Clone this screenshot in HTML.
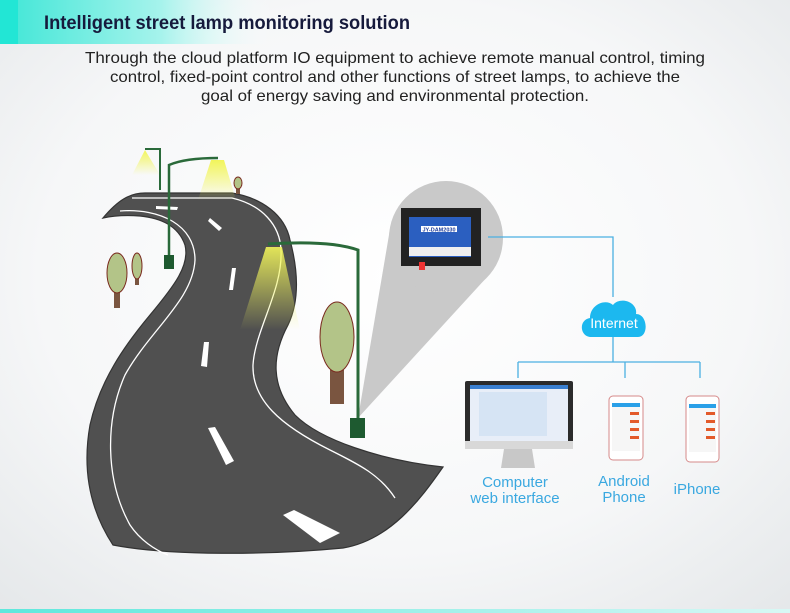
<!DOCTYPE html>
<html><head><meta charset="utf-8"><style>
html,body{margin:0;padding:0;width:790px;height:613px;overflow:hidden}
svg{display:block}
text{font-family:"Liberation Sans",sans-serif}
</style></head><body>
<svg width="790" height="613" viewBox="0 0 790 613" xmlns="http://www.w3.org/2000/svg">
<defs>
<radialGradient id="bg" cx="0.5" cy="0.45" r="0.75">
<stop offset="0" stop-color="#ffffff"/><stop offset="0.6" stop-color="#f6f7f8"/><stop offset="1" stop-color="#e4e7e9"/>
</radialGradient>
<linearGradient id="hd" x1="0" x2="1" y1="0" y2="0">
<stop offset="0" stop-color="#3ee6d6"/><stop offset="0.35" stop-color="#a6f3ec"/><stop offset="0.6" stop-color="#ffffff" stop-opacity="0"/>
</linearGradient>
<linearGradient id="cone" x1="0" x2="0" y1="0" y2="1">
<stop offset="0" stop-color="#f2f55a"/><stop offset="1" stop-color="#f2f55a" stop-opacity="0"/>
</linearGradient>
<linearGradient id="ft" x1="0" x2="1"><stop offset="0" stop-color="#5fe8dc"/><stop offset="1" stop-color="#d8f8f5"/></linearGradient>
</defs>
<rect width="790" height="613" fill="url(#bg)"/>
<rect x="0" y="0" width="460" height="44" fill="url(#hd)"/>
<rect x="0" y="0" width="18" height="44" fill="#22e6d5"/>
<rect x="0" y="609" width="790" height="4" fill="url(#ft)"/>
<text x="44" y="29" font-size="19" font-weight="bold" fill="#161a3c" textLength="366" lengthAdjust="spacingAndGlyphs">Intelligent street lamp monitoring solution</text>
<g font-size="16" fill="#222" text-anchor="middle">
<text x="395" y="63" textLength="620" lengthAdjust="spacingAndGlyphs">Through the cloud platform IO equipment to achieve remote manual control, timing</text>
<text x="395" y="82" textLength="570" lengthAdjust="spacingAndGlyphs">control, fixed-point control and other functions of street lamps, to achieve the</text>
<text x="395" y="101" textLength="388" lengthAdjust="spacingAndGlyphs">goal of energy saving and environmental protection.</text>
</g>
<!-- spotlight bubble -->
<path d="M358,418 L390,229 L446,238 L488,276 Z" fill="#c9c9c9"/>
<circle cx="446" cy="238" r="57" fill="#c9c9c9"/>
<!-- road -->
<path d="M103,218 C118,200 130,193 145,193 L232,193 C262,198 285,215 290,240 C298,270 300,300 288,325 C272,355 270,385 295,415 C320,440 380,460 443,467 C420,500 390,540 343,548 C270,555 170,556 113,545 C90,510 82,470 90,425 C100,380 125,345 150,315 C175,285 190,265 185,245 C178,225 160,218 140,216 C125,215 112,216 103,218 Z" fill="#505050" stroke="#333" stroke-width="1.2"/>
<path d="M120,211 C160,208 195,225 195,260 C193,300 150,330 125,375 C105,420 105,480 130,525 C140,540 155,550 168,555" fill="none" stroke="#fff" stroke-width="1.3"/>
<path d="M132,198 L232,198 C262,205 280,225 281,250 C283,290 255,330 253,365 C252,400 280,425 330,450 C360,465 380,475 395,498" fill="none" stroke="#fff" stroke-width="1.3"/>
<g fill="#fff">
<path d="M156,206 L178,207 L177,210 L156,209Z"/>
<path d="M210,218 L222,228 L219,231 L208,221Z"/>
<path d="M236,268 L233,290 L229,290 L232,268Z"/>
<path d="M209,342 L207,367 L201,366 L204,342Z"/>
<path d="M208,428 L215,427 L234,461 L226,465 Z"/>
<path d="M283,515 L294,510 L340,533 L320,543 Z"/>
</g>
<!-- lamps -->
<path d="M145,150 L132,175 L160,175 Z" fill="url(#cone)"/>
<path d="M145,149 L160,149 L160,190" fill="none" stroke="#2a6a3a" stroke-width="2"/>
<path d="M211,160 L198,200 L236,200 L224,160 Z" fill="url(#cone)"/>
<path d="M169,268 L169,165 Q185,158 218,158" fill="none" stroke="#2a6a3a" stroke-width="2.5"/>
<rect x="164" y="255" width="10" height="14" fill="#1e5a30"/>
<path d="M266,247 L240,330 L300,330 L282,247 Z" fill="url(#cone)" opacity="0.9"/>
<path d="M358,437 L358,250 Q330,240 268,244" fill="none" stroke="#2a6a3a" stroke-width="3"/>
<rect x="350" y="418" width="15" height="20" fill="#1e5a30"/>
<!-- trees -->
<rect x="114" y="288" width="6" height="20" fill="#7a5540"/><ellipse cx="117" cy="273" rx="10" ry="20" fill="#b3c488" stroke="#7a2a1f"/>
<rect x="135" y="272" width="4" height="13" fill="#7a5540"/><ellipse cx="137" cy="266" rx="5" ry="13" fill="#b3c488" stroke="#7a2a1f"/>
<rect x="330" y="370" width="14" height="34" fill="#7a5540"/><ellipse cx="337" cy="337" rx="17" ry="35" fill="#b3c488" stroke="#7a2a1f"/>
<rect x="236" y="186" width="4" height="8" fill="#7a5540"/><ellipse cx="238" cy="183" rx="4" ry="6" fill="#b3c488" stroke="#7a2a1f"/>
<!-- device -->
<rect x="401" y="208" width="80" height="58" fill="#222"/>
<rect x="409" y="217" width="62" height="40" fill="#2b5fc0"/>
<rect x="409" y="247" width="62" height="9" fill="#f0f0f0"/>
<rect x="421" y="226" width="36" height="6" fill="#fff"/>
<text x="439" y="231.5" font-size="5.5" fill="#1d3c9a" text-anchor="middle" font-weight="bold">JY-DAM2030</text>
<rect x="419" y="262" width="6" height="8" fill="#e33"/>
<!-- connectors -->
<g stroke="#4bb0e2" stroke-width="1.3" fill="none">
<path d="M488,237 L613,237 L613,297"/>
<path d="M613,335 L613,362 M518,362 L700,362 M518,362 L518,378 M625,362 L625,378 M700,362 L700,378"/>
</g>
<path d="M591,337 C580,337 578,320 590,318 C590,305 605,298 613,305 C620,296 638,302 636,314 C648,314 649,337 638,337 Z" fill="#1cb8ef"/>
<text x="614" y="328" font-size="14" fill="#fff" text-anchor="middle">Internet</text>
<!-- monitor -->
<rect x="465" y="381" width="108" height="66" rx="2" fill="#2b2b2b"/>
<rect x="470" y="385" width="98" height="56" fill="#e8eef8"/>
<rect x="470" y="385" width="98" height="4" fill="#3a7fd0"/>
<rect x="479" y="392" width="68" height="44" fill="#d6e4f4"/>
<rect x="465" y="441" width="108" height="8" fill="#d8d8d8"/>
<path d="M504,449 L532,449 L535,468 L501,468 Z" fill="#c8c8c8"/>
<!-- phones -->
<rect x="609" y="396" width="34" height="64" rx="4" fill="#fff" stroke="#d68a8a"/>
<rect x="612" y="403" width="28" height="48" fill="#f6f6f6"/><rect x="612" y="403" width="28" height="4" fill="#2aa0e8"/>
<rect x="686" y="396" width="33" height="66" rx="4" fill="#fff" stroke="#d68a8a"/>
<rect x="689" y="404" width="27" height="48" fill="#f6f6f6"/><rect x="689" y="404" width="27" height="4" fill="#2aa0e8"/>
<g fill="#e35a2a"><rect x="630" y="412" width="9" height="3"/><rect x="630" y="420" width="9" height="3"/><rect x="630" y="428" width="9" height="3"/><rect x="630" y="436" width="9" height="3"/>
<rect x="706" y="412" width="9" height="3"/><rect x="706" y="420" width="9" height="3"/><rect x="706" y="428" width="9" height="3"/><rect x="706" y="436" width="9" height="3"/></g>
<g font-size="15" fill="#3aa8e0" text-anchor="middle">
<text x="515" y="487">Computer</text><text x="515" y="503">web interface</text>
<text x="624" y="486">Android</text><text x="624" y="502">Phone</text>
<text x="697" y="494">iPhone</text>
</g>
</svg>
</body></html>
